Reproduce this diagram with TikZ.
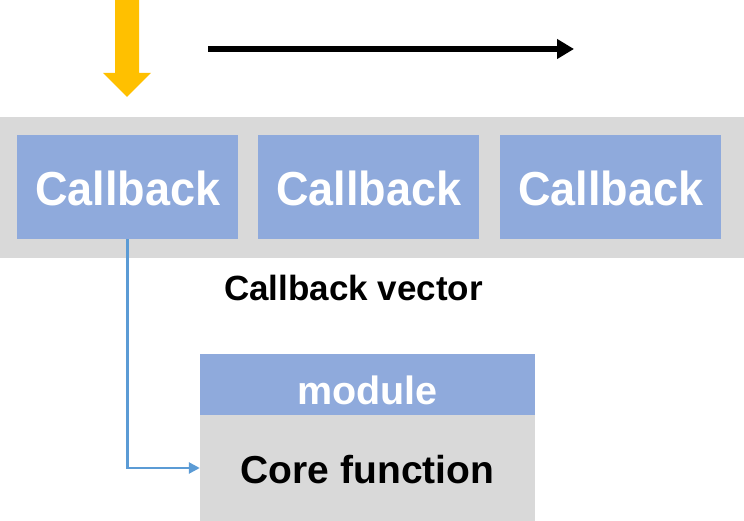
\documentclass[tikz,border=0pt]{standalone}
\usepackage{fontspec}
\setmainfont{Liberation Sans}
\usetikzlibrary{arrows.meta}
\definecolor{boxblue}{HTML}{8FAADC}
\definecolor{bandgray}{HTML}{D9D9D9}
\definecolor{arrowyellow}{HTML}{FFC000}
\definecolor{linkblue}{HTML}{5B9BD5}
\tikzset{
  band/.style={rectangle, fill=bandgray, inner sep=0pt, minimum width=744pt, minimum height=141pt},
  cbbox/.style={rectangle, fill=boxblue, inner sep=0pt, minimum width=221pt, minimum height=104pt},
  hdrbox/.style={rectangle, fill=boxblue, inner sep=0pt, minimum width=335pt, minimum height=61pt},
  bodybox/.style={rectangle, fill=bandgray, inner sep=0pt, minimum width=335pt, minimum height=106pt},
  lbl/.style={anchor=base, inner sep=0pt, font=\bfseries},
}
\begin{document}
\begin{tikzpicture}[x=1pt,y=-1pt]
\useasboundingbox (0,0) rectangle (744,521);
% yellow arrow
\fill[arrowyellow] (115,0) -- (139,0) -- (139,73) -- (151,73) -- (127,97) -- (103,73) -- (115,73) -- cycle;
% black arrow
\coordinate (bstart) at (208,49);
\coordinate (bend) at (574,49);
\draw[line width=5.5pt, -{Triangle[length=17pt,width=19pt]}] (bstart) -- (bend);
% band and callbacks
\node[band] (band) at (372,187.5) {};
\node[cbbox] (cb1) at (127.5,187) {};
\node[cbbox] (cb2) at (368.5,187) {};
\node[cbbox] (cb3) at (610.5,187) {};
\node[lbl, text=white, font=\bfseries\fontsize{45}{54}\selectfont, yscale=1.06] (t1) at (128,206) {Callback};
\node[lbl, text=white, font=\bfseries\fontsize{45}{54}\selectfont, yscale=1.06] (t2) at (369,206) {Callback};
\node[lbl, text=white, font=\bfseries\fontsize{45}{54}\selectfont, yscale=1.06] (t3) at (611,206) {Callback};
\node[lbl, text=black, font=\bfseries\fontsize{35}{42}\selectfont] (vec) at (353.5,301) {Callback vector};
% module
\node[hdrbox] (hdr) at (367.5,384.5) {};
\node[bodybox] (body) at (367.5,468) {};
\node[lbl, text=white, font=\bfseries\fontsize{39.5}{47}\selectfont] (mod) at (367.5,404) {module};
\node[lbl, text=black, font=\bfseries\fontsize{39}{47}\selectfont] (core) at (367.5,483) {Core function};
% connector
\draw[linkblue, line width=2.5pt, -{Triangle[length=11pt,width=11pt]}] (cb1.south) |- (body.west);
\end{tikzpicture}
\end{document}
